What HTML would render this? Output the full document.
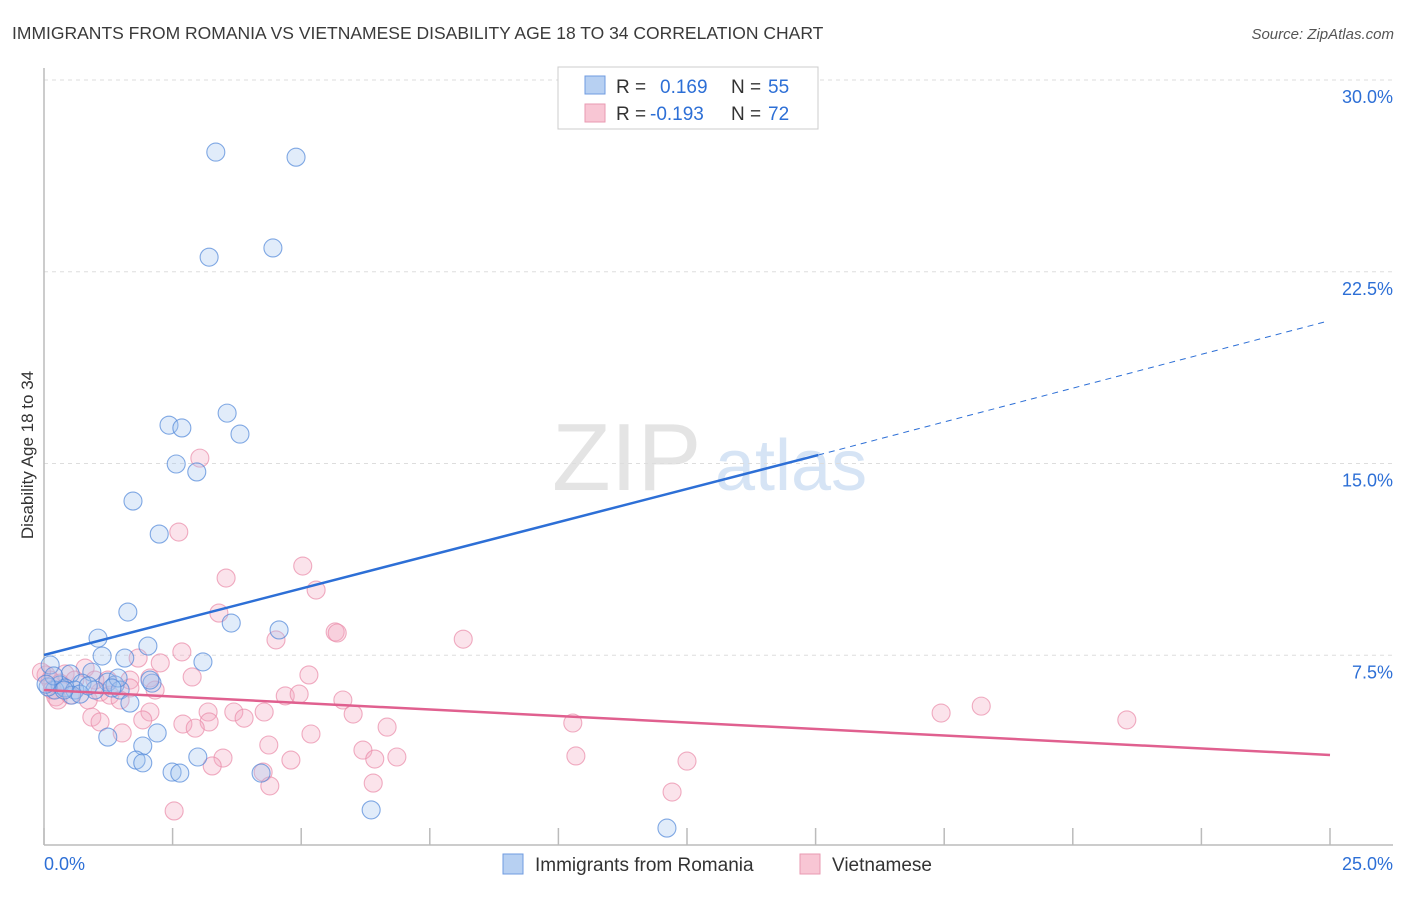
<!DOCTYPE html>
<html><head><meta charset="utf-8"><style>
body{margin:0;background:#fff;font-family:"Liberation Sans",sans-serif;}
svg text{font-family:"Liberation Sans",sans-serif;}
</style></head><body>
<svg id="chart" width="1406" height="892">
<text x="12" y="39" font-size="17.5" fill="#3a3a3a">IMMIGRANTS FROM ROMANIA VS VIETNAMESE DISABILITY AGE 18 TO 34 CORRELATION CHART</text>
<text x="1394" y="39" font-size="15" fill="#555" text-anchor="end" font-style="italic">Source: ZipAtlas.com</text>
<g><text x="552" y="490" font-size="96" fill="#e4e4e4" font-family="Liberation Serif,serif">ZIP</text><text x="715" y="490" font-size="72" fill="#d6e4f5">atlas</text></g>
<text transform="translate(33,455) rotate(-90)" font-size="17" fill="#333" text-anchor="middle">Disability Age 18 to 34</text>
<g id="grid"></g><g id="axes"></g><g id="marks"></g>
<g>
<rect x="558" y="67" width="260" height="62" fill="#fff" stroke="#ccc"/>
<rect x="585" y="76" width="20" height="18" fill="#b7d0f2" stroke="#6f9be0"/>
<rect x="585" y="104" width="20" height="18" fill="#f8c6d4" stroke="#e99ab2"/>
<text x="616" y="93" font-size="19" fill="#333">R =</text><text x="660" y="93" font-size="19" fill="#2d6fd6">0.169</text>
<text x="731" y="93" font-size="19" fill="#333">N =</text><text x="768" y="93" font-size="19" fill="#2d6fd6">55</text>
<text x="616" y="120" font-size="19" fill="#333">R =</text><text x="650" y="120" font-size="19" fill="#2d6fd6">-0.193</text>
<text x="731" y="120" font-size="19" fill="#333">N =</text><text x="768" y="120" font-size="19" fill="#2d6fd6">72</text>
</g>
<g>
<rect x="503" y="854" width="20" height="20" fill="#b7d0f2" stroke="#6f9be0"/>
<text x="535" y="871" font-size="19" fill="#333">Immigrants from Romania</text>
<rect x="800" y="854" width="20" height="20" fill="#f8c6d4" stroke="#e99ab2"/>
<text x="832" y="871" font-size="19" fill="#333">Vietnamese</text>
</g>
</svg>
<script>
const yTicks=[7.5,15,22.5,30];
const yTickLabels=["7.5%","15.0%","22.5%","30.0%"];
const xTicks=[0,2.5,5,7.5,10,12.5,15,17.5,20,22.5,25];
const xEndLabels=["0.0%","25.0%"];
const blueX=[3.34,4.90,3.21,4.45,3.56,2.43,2.68,3.81,2.57,2.97,1.73,2.24,1.63,3.64,4.57,1.05,2.02,1.13,1.57,3.09,0.12,0.51,0.93,1.24,0.31,0.74,1.38,2.10,2.06,0.21,0.41,0.60,0.99,1.48,0.08,0.54,0.70,1.67,1.24,1.92,2.20,1.79,1.92,2.99,2.49,2.64,4.22,6.36,12.11,0.19,0.86,0.39,1.44,0.04,1.32];
const blueY=[27.18,26.98,23.07,23.43,16.97,16.50,16.39,16.15,14.98,14.67,13.53,12.24,9.19,8.76,8.49,8.17,7.86,7.47,7.39,7.24,7.12,6.77,6.84,6.45,6.34,6.41,6.34,6.41,6.53,6.14,6.22,6.14,6.14,6.14,6.26,5.94,5.98,5.63,4.30,3.95,4.46,3.40,3.29,3.52,2.93,2.89,2.89,1.45,0.74,6.69,6.30,6.14,6.61,6.37,6.22];
const pinkX=[3.03,2.62,3.54,5.03,5.29,3.40,5.66,5.70,4.51,8.15,2.68,1.83,5.15,2.26,2.88,2.06,1.67,1.24,0.80,0.41,0.04,0.12,0.23,0.86,1.09,0.16,4.69,4.96,5.81,6.01,3.69,4.28,3.89,3.19,3.21,2.06,0.93,1.09,1.52,2.70,2.94,1.92,6.67,10.28,17.44,18.22,21.05,4.37,5.19,6.20,6.43,6.86,3.48,4.26,4.39,4.80,6.40,10.34,12.50,12.21,3.27,2.53,0.31,0.60,1.28,1.67,-0.05,1.48,2.16,0.99,0.27,0.51];
const pinkY=[15.21,12.32,10.52,10.99,10.05,9.15,8.41,8.37,8.10,8.13,7.63,7.39,6.73,7.20,6.65,6.61,6.53,6.53,7.00,6.77,6.73,6.53,5.87,5.75,6.06,6.14,5.91,5.98,5.75,5.20,5.28,5.28,5.04,5.28,4.89,5.28,5.08,4.89,4.46,4.81,4.65,4.97,4.69,4.85,5.24,5.51,4.97,3.99,4.42,3.79,3.44,3.52,3.48,2.93,2.39,3.40,2.50,3.56,3.36,2.15,3.17,1.41,6.41,6.53,5.94,6.22,6.84,5.75,6.14,6.53,5.75,5.94];
const blueTrend=[7.51,15.33,20.57];
const blueTrendX=[0,15.05,24.96];
const pinkTrend=[6.14,3.6];
const pinkTrendX=[0,25];
const NS="http://www.w3.org/2000/svg";
const X=v=>44+v/25*1286;
const Y=v=>847-v/30*767;
function mk(parent,tag,attrs){const e=document.createElementNS(NS,tag);for(const k in attrs)e.setAttribute(k,attrs[k]);document.getElementById(parent).appendChild(e);return e;}
yTicks.forEach((t,i)=>{
 const l=mk('grid','line',{x1:44,x2:1393,y1:Y(t),y2:Y(t),stroke:'#ddd','stroke-dasharray':'4,4'});
 
 
 const tx=mk('grid','text',{x:1393,y:Y(t)+23,'font-size':18,fill:'#2d6fd6','text-anchor':'end'});
 tx.textContent=yTickLabels[i];
 
 
});
const ax=mk('axes','line',{x1:44,x2:44,y1:68,y2:845,stroke:'#bbb','stroke-width':1.5});


const bx=mk('axes','line',{x1:44,x2:1393,y1:845,y2:845,stroke:'#bbb','stroke-width':1.5});


xTicks.forEach(t=>{
 const k=mk('axes','line',{x1:X(t),x2:X(t),y1:828,y2:845,stroke:'#bbb','stroke-width':1.5});
 
 
});
[[0,'start'],[25,'end']].forEach((p,i)=>{
 const tx=mk('axes','text',{x:i?1393:44,y:870,'font-size':18,fill:'#2d6fd6','text-anchor':p[1]});
 tx.textContent=xEndLabels[i];
 
 
});
function pts(xs,ys,fill,stroke,name){xs.forEach((x,i)=>{
 const c=mk('marks','circle',{cx:X(x),cy:Y(ys[i]),r:9,fill:fill,'fill-opacity':0.32,stroke:stroke,'stroke-opacity':0.7,'stroke-width':1.1});
 
 
});}
pts(pinkX,pinkY,'#f4a9c0','#e98aa8','vietnamese-point');
pts(blueX,blueY,'#a3c3ee','#4f86d8','romania-point');
const b1=mk('marks','line',{x1:X(blueTrendX[0]),y1:Y(blueTrend[0]),x2:X(blueTrendX[1]),y2:Y(blueTrend[1]),stroke:'#2d6fd6','stroke-width':2.5});


const b2=mk('marks','line',{x1:X(blueTrendX[1]),y1:Y(blueTrend[1]),x2:X(blueTrendX[2]),y2:Y(blueTrend[2]),stroke:'#2d6fd6','stroke-width':1,'stroke-dasharray':'6,5'});


const p1=mk('marks','line',{x1:X(pinkTrendX[0]),y1:Y(pinkTrend[0]),x2:X(pinkTrendX[1]),y2:Y(pinkTrend[1]),stroke:'#e0608f','stroke-width':2.5});


</script>
</body></html>
